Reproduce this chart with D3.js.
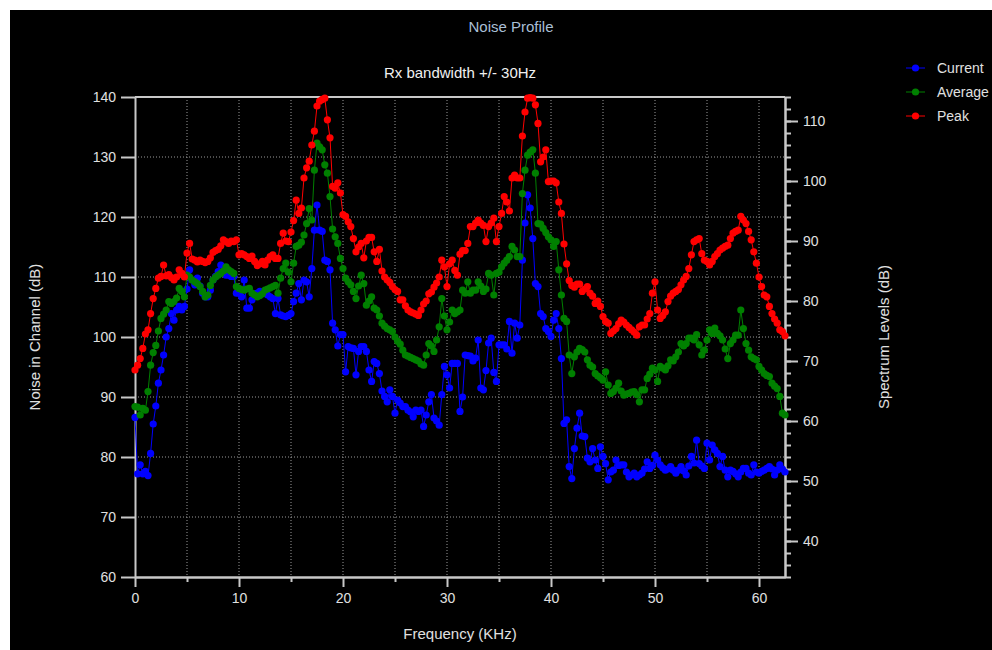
<html>
<head>
    <script src="https://d3js.org/d3.v7.min.js"></script>
</head>
<style>
    body { margin: 0; background: white; }
    text { font-family: "Liberation Sans", Arial, sans-serif; }
</style>
<body>
    <svg id="chart" width="992" height="650"></svg>

    <script>
        // frequency bins are 0.25 kHz apart, 0 .. 62.5 kHz
        const binWidth = 0.25;

        // Current (blue), left axis units (dB)
        const current = [
            86.6, 77.2, 78.7, 77.2,  77.6, 76.9, 80.6, 85.5,  88.5, 92.3, 94.5, 97.0,  100.0, 101.4, 103.9, 102.8,
            104.5, 105.1, 104.5, 105.1,  108.0, 111.2, 109.5, 108.7,  109.8, 108.5, 107.3, 106.7,  106.7, 107.8, 109.5, 110.1,
            110.9, 112.0, 110.9, 110.3,  110.3, 110.1, 110.1, 107.3,  107.3, 106.7, 109.5, 104.8,  104.8, 106.2, 107.2, 107.3,
            107.6, 107.4, 107.3, 107.0,  106.7, 106.4, 103.9, 106.4,  103.7, 103.5, 103.4, 103.6,  103.9, 105.9, 107.3, 108.9,
            106.2, 109.5, 109.2, 106.7,  111.4, 117.8, 122.0, 117.8,  117.6, 112.8, 112.6, 111.2,  102.3, 101.2, 98.5, 100.4,
            100.4, 94.2, 98.4, 98.2,  98.1, 93.7, 97.6, 98.4,  98.4, 97.6, 94.5, 92.6,  95.9, 95.6, 93.9, 91.0,
            90.1, 89.2, 91.2, 90.1,  87.3, 89.5, 89.0, 88.4,  88.4, 87.8, 87.5, 86.7,  87.8, 87.6, 87.8, 85.1,
            87.0, 89.2, 90.4, 86.5,  86.0, 85.3, 90.4, 95.1,  93.7, 91.5, 95.6, 95.6,  95.6, 87.6, 90.0, 97.0,
            96.9, 96.8, 96.0, 96.5,  99.5, 91.5, 91.2, 94.4,  99.0, 99.8, 94.1, 92.6,  98.7, 98.7, 98.7, 98.0,
            102.6, 97.3, 102.3, 99.8,  102.0, 112.8, 119.0, 123.7,  121.5, 116.4, 108.9, 108.4,  103.9, 103.4, 101.4, 100.9,
            100.1, 102.8, 103.9, 101.4,  96.4, 85.6, 86.2, 78.4,  76.4, 81.4, 84.8, 87.3,  83.5, 83.4, 79.8, 79.2,
            81.4, 79.5, 78.1, 81.7,  80.1, 78.9, 76.2, 77.5,  77.8, 79.5, 78.6, 78.7,  78.7, 77.5, 76.7, 77.0,
            77.3, 76.7, 77.0, 77.3,  78.0, 79.2, 78.1, 78.6,  80.3, 79.5, 78.7, 78.2,  77.8, 78.0, 78.4, 77.8,
            77.3, 77.8, 78.4, 77.7,  77.0, 78.5, 80.1, 79.0,  82.8, 78.9, 78.5, 78.1,  82.3, 79.5, 82.0, 81.2,
            80.6, 78.4, 80.1, 77.8,  76.7, 77.8, 77.6, 77.2,  76.7, 77.5, 78.1, 78.1,  77.3, 77.0, 78.7, 77.5,
            77.3, 77.6, 77.8, 78.1,  78.4, 78.0, 77.0, 77.8,  78.7, 78.0, 77.5
        ];

        // Average (green)
        const average = [
            88.4, 88.3, 87.0, 88.1,  87.8, 90.9, 95.3, 97.4,  98.6, 101.0, 103.1, 103.8,  104.5, 105.9, 105.6, 105.9,
            106.5, 108.1, 107.6, 106.7,  110.3, 110.0, 109.5, 109.2,  108.9, 108.4, 107.6, 106.7,  107.0, 108.6, 109.5, 110.0,
            110.3, 110.6, 111.0, 111.7,  111.2, 110.9, 110.6, 108.4,  108.1, 107.9, 107.8, 108.0,  108.1, 107.3, 107.0, 106.7,
            106.9, 107.2, 107.8, 108.0,  108.2, 108.4, 108.6, 107.3,  109.8, 111.4, 112.3, 110.8,  109.2, 112.3, 115.1, 115.3,
            115.8, 117.0, 118.9, 121.4,  119.5, 127.8, 132.3, 131.7,  131.2, 128.7, 127.3, 123.4,  118.0, 116.7, 115.6, 113.1,
            111.4, 109.8, 109.2, 108.7,  107.6, 106.4, 108.5, 110.3,  108.9, 105.3, 106.0, 106.7,  104.8, 104.5, 103.5, 102.3,
            101.8, 101.4, 101.2, 100.9,  100.0, 99.3, 98.8, 97.8,  97.0, 96.8, 96.6, 96.4,  96.2, 96.0, 95.5, 95.3,
            97.0, 98.9, 98.5, 97.6,  99.5, 101.7, 106.4, 103.5,  101.2, 102.5, 104.5, 103.9,  104.2, 104.5, 107.8, 107.3,
            109.2, 107.3, 107.8, 107.8,  109.2, 108.5, 107.6, 108.0,  110.6, 110.3, 107.0, 110.6,  110.8, 111.7, 112.3, 112.8,
            113.4, 115.1, 114.5, 113.4,  113.4, 123.9, 127.8, 130.3,  130.8, 131.2, 127.3, 118.9,  118.8, 118.1, 117.4, 116.7,
            116.2, 115.1, 115.9, 111.2,  107.0, 103.1, 102.6, 97.0,  93.9, 96.7, 97.5, 98.1,  97.9, 97.5, 96.2, 95.3,
            95.0, 93.9, 93.5, 93.2,  92.8, 94.2, 92.0, 90.6,  90.9, 91.5, 92.3, 91.0,  90.3, 90.5, 90.6, 90.8,
            90.9, 90.4, 89.2, 91.2,  91.2, 93.1, 93.8, 94.8,  94.5, 92.6, 95.1, 94.8,  94.5, 95.2, 96.2, 96.0,
            96.7, 97.5, 98.9, 98.5,  98.9, 99.8, 99.8, 99.5,  100.4, 98.7, 97.0, 97.8,  99.5, 101.2, 100.6, 101.5,
            100.6, 100.2, 99.5, 98.0,  96.4, 98.9, 99.5, 100.3,  100.3, 104.5, 101.4, 98.9,  97.8, 96.7, 96.4, 96.2,
            95.1, 94.5, 93.9, 93.6,  93.4, 92.3, 91.8, 91.4,  90.1, 87.3, 87.0
        ];

        // Peak (red)
        const peak = [
            94.5, 95.3, 96.4, 98.1,  100.5, 101.2, 103.9, 106.4,  108.1, 109.8, 110.1, 112.0,  110.2, 110.4, 109.9, 109.5,
            110.0, 111.2, 110.6, 110.0,  114.0, 115.6, 113.0, 112.8,  112.5, 112.8, 112.6, 112.4,  112.6, 113.2, 114.1, 114.4,
            114.6, 115.2, 116.2, 115.9,  115.6, 116.0, 115.9, 116.2,  113.7, 113.9, 113.7, 113.4,  113.1, 113.5, 112.6, 111.9,
            112.2, 112.6, 112.0, 112.8,  113.4, 113.7, 113.1, 113.1,  115.6, 117.3, 116.0, 115.9,  117.5, 119.4, 122.8, 120.6,
            121.5, 126.5, 128.2, 129.3,  132.0, 134.3, 138.5, 139.3,  139.6, 139.8, 136.2, 133.2,  125.1, 124.8, 125.7, 124.0,
            120.4, 120.1, 119.2, 118.4,  116.4, 114.2, 115.0, 115.6,  113.2, 116.0, 116.6, 116.6,  114.2, 112.6, 114.6, 111.0,
            110.0, 109.5, 109.1, 108.4,  107.9, 107.6, 106.2, 106.2,  105.2, 104.5, 104.2, 104.0,  103.8, 103.6, 104.5, 105.5,
            106.0, 107.2, 107.5, 108.3,  109.0, 110.0, 112.8, 111.7,  108.4, 112.2, 112.8, 111.1,  110.3, 113.8, 114.4, 114.4,
            115.6, 118.4, 118.4, 119.0,  119.5, 119.0, 118.6, 115.9,  118.4, 119.0, 119.8, 115.9,  118.4, 120.6, 123.4, 122.5,
            121.0, 126.5, 127.0, 126.5,  126.5, 133.5, 137.5, 139.8,  139.9, 139.8, 138.7, 135.6,  129.2, 130.0, 131.2, 125.9,
            126.0, 126.0, 125.7, 122.5,  120.6, 115.5, 112.2, 109.4,  108.6, 108.3, 108.8, 108.8,  107.6, 108.0, 108.4, 107.3,
            106.8, 105.6, 106.0, 105.1,  103.4, 102.6, 102.3, 100.6,  101.0, 101.4, 102.2, 102.8,  102.5, 102.0, 101.6, 101.2,
            100.8, 100.3, 101.7, 102.0,  102.0, 103.0, 103.9, 107.3,  109.2, 104.5, 103.1, 103.6,  104.2, 105.9, 106.8, 107.3,
            107.6, 107.9, 108.7, 109.5,  110.1, 111.4, 113.7, 115.9,  116.2, 116.4, 113.9, 112.8,  112.6, 112.0, 112.6, 113.4,
            113.9, 114.5, 114.8, 115.1,  115.3, 116.4, 117.3, 117.6,  117.8, 120.1, 119.5, 118.9,  117.6, 116.2, 114.2, 112.3,
            110.0, 108.4, 107.0, 106.7,  105.1, 103.9, 103.0, 102.3,  101.2, 100.9, 100.2
        ];

        const seriesNames = ["Current", "Average", "Peak"];
        const seriesColors = ["#0000ff", "#008000", "#ff0000"];
        const leftTicks = [60, 70, 80, 90, 100, 110, 120, 130, 140];
        const rightTicks = [40, 50, 60, 70, 80, 90, 100, 110];
        const freqTicks = [0, 10, 20, 30, 40, 50, 60];

        const svg = d3.select("svg#chart");
        const plot = { left: 135, right: 785, top: 97, bottom: 577 };
        const axisColor = "#c8c8c8";
        const textColor = "#e0e0e0";

        // black panel
        svg.append("rect")
            .attr("x", 10).attr("y", 10)
            .attr("width", 982).attr("height", 640)
            .attr("fill", "black");

        const x = d3.scaleLinear().domain([0, 62.5]).range([plot.left, plot.right]);
        const yL = d3.scaleLinear().domain([60, 140]).range([plot.bottom, plot.top]);
        const yR = d3.scaleLinear().domain([34, 114]).range([plot.bottom, plot.top]);

        // dotted grid
        const grid = svg.append("g")
            .attr("stroke", "#9a9a9a")
            .attr("stroke-dasharray", "1,2");
        grid.selectAll("line.v").data(d3.range(5, 61, 5))
            .join("line")
            .attr("x1", d => x(d)).attr("x2", d => x(d))
            .attr("y1", plot.top).attr("y2", plot.bottom);
        grid.selectAll("line.h").data(leftTicks.slice(1, -1))
            .join("line")
            .attr("x1", plot.left).attr("x2", plot.right)
            .attr("y1", d => yL(d)).attr("y2", d => yL(d));

        function styleAxis(g) {
            g.select(".domain").attr("stroke", axisColor).attr("stroke-width", 2);
            g.selectAll(".tick line").attr("stroke", axisColor).attr("stroke-width", 2);
            g.selectAll(".tick text")
                .attr("fill", textColor)
                .style("font-size", "14px")
                .style("font-family", '"Liberation Sans", Arial, sans-serif');
        }

        // left axis
        svg.append("g")
            .attr("transform", "translate(" + plot.left + ",0)")
            .call(d3.axisLeft(yL).tickValues(leftTicks).tickSize(14).tickSizeOuter(0).tickPadding(5))
            .call(styleAxis);

        // bottom axis, minor then major
        svg.append("g")
            .attr("transform", "translate(0," + plot.bottom + ")")
            .call(d3.axisBottom(x).tickValues(d3.range(5, 60, 10)).tickSize(5).tickSizeOuter(0).tickFormat(""))
            .call(styleAxis);
        svg.append("g")
            .attr("transform", "translate(0," + plot.bottom + ")")
            .call(d3.axisBottom(x).tickValues(freqTicks).tickSize(10).tickSizeOuter(0).tickPadding(6))
            .call(styleAxis);

        // right axis, minor every 2 then major every 10
        svg.append("g")
            .attr("transform", "translate(" + plot.right + ",0)")
            .call(d3.axisRight(yR).tickValues(d3.range(34, 115, 2)).tickSize(6).tickSizeOuter(0).tickFormat(""))
            .call(styleAxis);
        svg.append("g")
            .attr("transform", "translate(" + plot.right + ",0)")
            .call(d3.axisRight(yR).tickValues(rightTicks).tickSize(13).tickSizeOuter(0).tickPadding(5))
            .call(styleAxis);

        // top border
        svg.append("line")
            .attr("x1", plot.left).attr("x2", plot.right)
            .attr("y1", plot.top).attr("y2", plot.top)
            .attr("stroke", axisColor).attr("stroke-width", 2);

        // series
        const allSeries = [current, average, peak];
        const line = d3.line()
            .x((d, i) => x(i * binWidth))
            .y(d => yL(d));

        allSeries.forEach((values, s) => {
            const g = svg.append("g");
            g.append("path").datum(values)
                .attr("d", line)
                .attr("fill", "none")
                .attr("stroke", seriesColors[s])
                .attr("stroke-width", 1);
            g.selectAll("circle").data(values)
                .join("circle")
                .attr("cx", (d, i) => x(i * binWidth))
                .attr("cy", d => yL(d))
                .attr("r", 3.6)
                .attr("fill", seriesColors[s]);
        });

        // titles
        svg.append("text")
            .attr("x", 511).attr("y", 32)
            .attr("text-anchor", "middle")
            .attr("fill", "#a9bfd6")
            .style("font-size", "15px")
            .text("Noise Profile");
        svg.append("text")
            .attr("x", 460).attr("y", 78)
            .attr("text-anchor", "middle")
            .attr("fill", "#f0f0f0")
            .style("font-size", "15px")
            .text("Rx bandwidth +/- 30Hz");

        // axis titles
        svg.append("text")
            .attr("transform", "translate(40,337) rotate(-90)")
            .attr("text-anchor", "middle")
            .attr("fill", textColor)
            .style("font-size", "15px")
            .text("Noise in Channel (dB)");
        svg.append("text")
            .attr("transform", "translate(889,337) rotate(-90)")
            .attr("text-anchor", "middle")
            .attr("fill", textColor)
            .style("font-size", "15px")
            .text("Spectrum Levels (dB)");
        svg.append("text")
            .attr("x", 460).attr("y", 639)
            .attr("text-anchor", "middle")
            .attr("fill", textColor)
            .style("font-size", "15px")
            .text("Frequency (KHz)");

        // legend
        const legend = svg.append("g");
        seriesNames.forEach((name, i) => {
            const ly = 68 + i * 24;
            legend.append("line")
                .attr("x1", 906).attr("x2", 925)
                .attr("y1", ly).attr("y2", ly)
                .attr("stroke", seriesColors[i]).attr("stroke-width", 1);
            legend.append("circle")
                .attr("cx", 915.5).attr("cy", ly).attr("r", 3.6)
                .attr("fill", seriesColors[i]);
            legend.append("text")
                .attr("x", 937).attr("y", ly + 5)
                .attr("fill", textColor)
                .style("font-size", "14px")
                .text(name);
        });
    </script>
</body>
</html>
